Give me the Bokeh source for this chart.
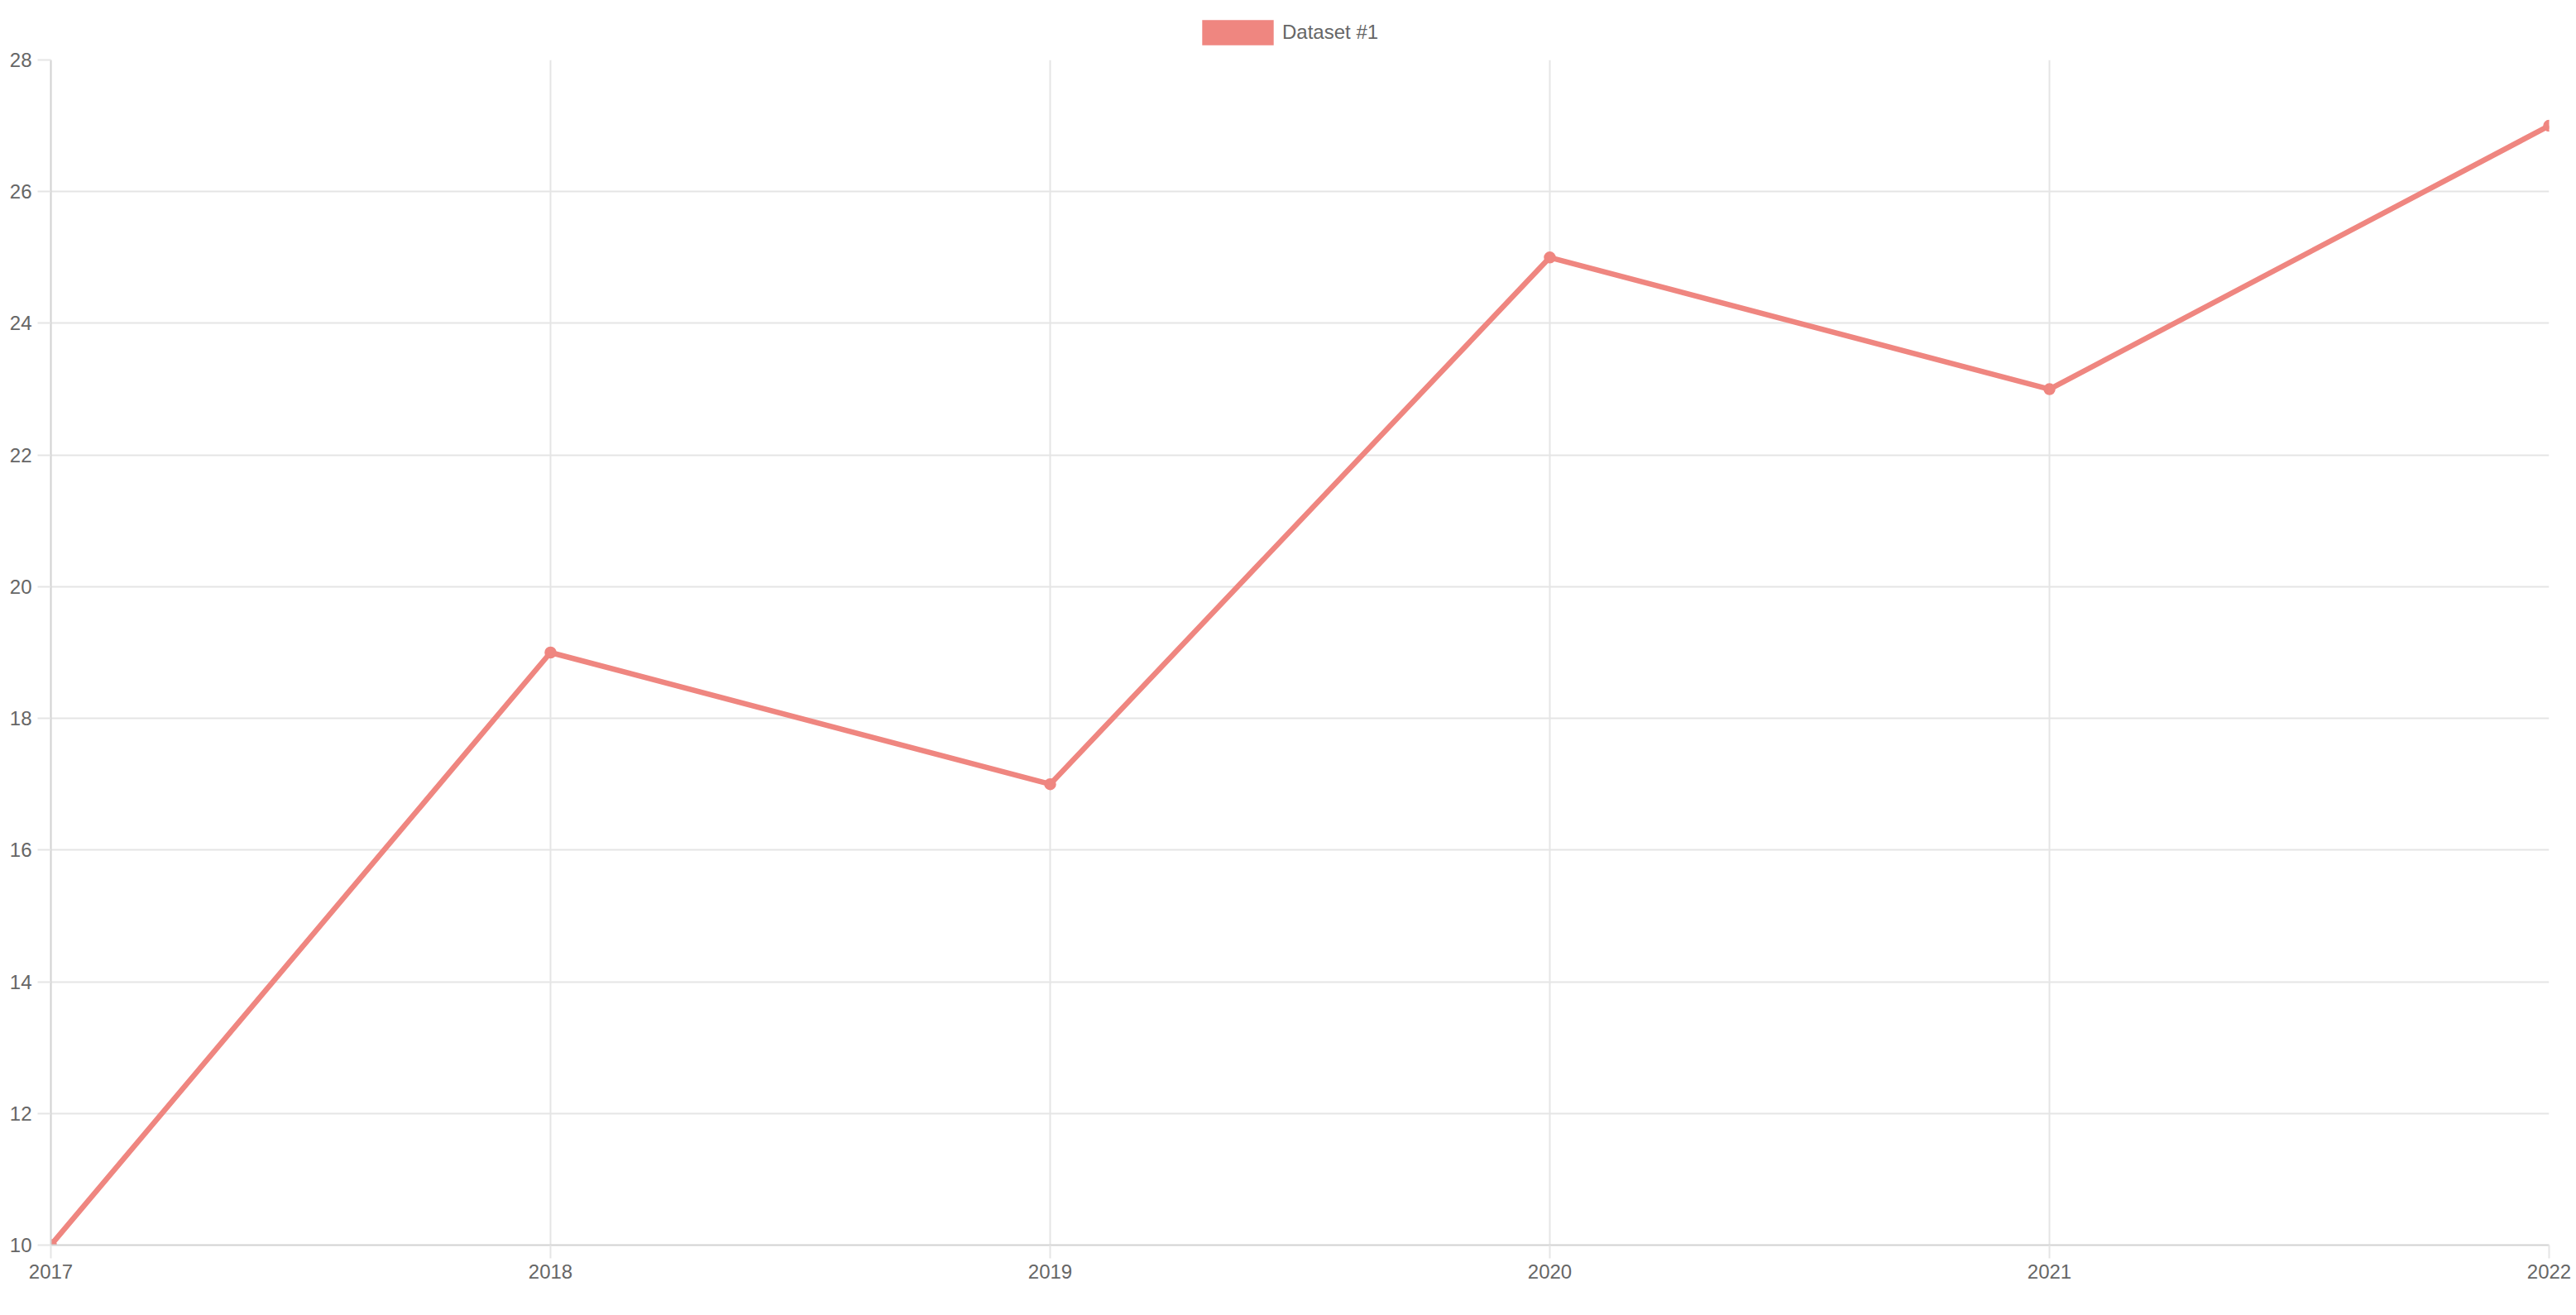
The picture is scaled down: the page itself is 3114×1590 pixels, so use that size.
from bokeh.plotting import figure
from bokeh.layouts import column
from bokeh.models import (ColumnDataSource, FixedTicker, Range1d, Legend, LegendItem)
from bokeh.embed import file_html
from bokeh.resources import INLINE

# ---- data ----
years = [2017, 2018, 2019, 2020, 2021, 2022]
dataset_1 = [10, 19, 17, 25, 23, 27]
series_name = "Dataset #1"
y_ticks = [10, 12, 14, 16, 18, 20, 22, 24, 26, 28]

LINE_COLOR = "#ef8680"
GRID = "#e5e5e5"
AXIS = "#d2d2d2"
TEXT = "#666666"
FONT = "Liberation Sans"

# ---- legend strip (separate figure on top) ----
leg_fig = figure(
    width=3114, height=60,
    min_border_left=0, min_border_right=0, min_border_top=0, min_border_bottom=0,
    x_axis_type=None, y_axis_type=None,
    output_backend="svg", toolbar_location=None,
)
leg_fig.outline_line_color = None
leg_fig.grid.visible = False
leg_fig.background_fill_color = "white"
leg_fig.border_fill_color = "white"

# legend swatch renderer: zero-size quads on the data points (only the legend box shows)
box_src = ColumnDataSource(dict(left=years, right=years, top=dataset_1, bottom=dataset_1))
box_r = leg_fig.quad(left="left", right="right", top="top", bottom="bottom", source=box_src,
                     fill_color=LINE_COLOR, line_color=None)

legend = Legend(
    items=[LegendItem(label=series_name, renderers=[box_r])],
    location=(1381, 2),
    orientation="horizontal",
    glyph_width=108, glyph_height=38,
    label_standoff=0, label_height=38,
    padding=0, margin=0, spacing=0,
    label_text_font=FONT, label_text_font_size="24px", label_text_color=TEXT,
    border_line_color=None, background_fill_alpha=0,
)
leg_fig.add_layout(legend, "center")

# ---- main chart ----
p = figure(
    width=3114, height=1515,
    min_border_left=61, min_border_right=33, min_border_top=12, min_border_bottom=70,
    x_range=Range1d(years[0], years[-1]), y_range=Range1d(min(y_ticks), max(y_ticks)),
    output_backend="svg", toolbar_location=None,
)
p.outline_line_color = None
p.background_fill_color = "white"
p.border_fill_color = "white"

src = ColumnDataSource(dict(x=years, y=dataset_1))
p.line("x", "y", source=src, line_color=LINE_COLOR, line_width=6.5)
p.scatter("x", "y", source=src, size=13, fill_color=LINE_COLOR,
          line_color=LINE_COLOR, line_width=1.5)

for ax in (p.xaxis, p.yaxis):
    ax.axis_line_color = AXIS
    ax.axis_line_width = 2
    ax.major_tick_line_color = GRID
    ax.major_tick_line_width = 2
    ax.major_tick_out = 16
    ax.major_tick_in = 0
    ax.minor_tick_line_color = None
    ax.major_label_text_font = FONT
    ax.major_label_text_font_size = "24px"
    ax.major_label_text_color = TEXT
    ax.major_label_standoff = 7

p.xaxis.ticker = FixedTicker(ticks=years)
p.yaxis.ticker = FixedTicker(ticks=y_ticks)

p.xgrid.ticker = FixedTicker(ticks=years)
p.ygrid.ticker = FixedTicker(ticks=y_ticks)
for g in (p.xgrid, p.ygrid):
    g.grid_line_color = GRID
    g.grid_line_width = 2

layout = column(leg_fig, p, spacing=0)
open("out.html", "w").write(file_html(layout, INLINE))
